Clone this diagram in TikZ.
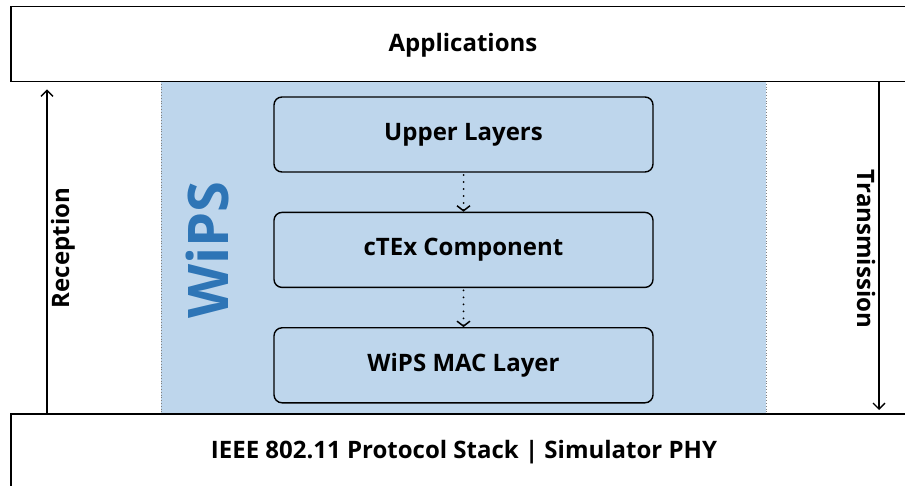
\documentclass[tikz,border=0pt]{standalone}
\usepackage{fontspec}
\setmainfont{Open Sans}
\usetikzlibrary{arrows.meta,positioning}

\definecolor{wipsbg}{RGB}{190,214,236}
\definecolor{wipsblue}{RGB}{46,117,182}

\tikzset{
  layerbox/.style={draw, line width=1.5pt, minimum width=895pt},
  layertext/.style={font=\bfseries\fontsize{24}{28}\selectfont},
  stackbox/.style={draw, line width=1.4pt, rounded corners=8pt, fill=wipsbg,
    minimum width=379pt, minimum height=75pt, font=\bfseries\fontsize{24}{28}\selectfont},
  sidelabel/.style={font=\bfseries\fontsize{24}{28}\selectfont},
  flow/.style={->, line width=2pt, line cap=round, dash pattern=on 0pt off 7pt}
}

\begin{document}
\begin{tikzpicture}[x=1pt, y=-1pt, >={Straight Barb[length=6pt,width=12pt]}]

  % 1. Page frame
  \clip (0,0) rectangle (905,486);

  % 2. WiPS region (behind everything)
  \fill[wipsbg] (161,81) rectangle (766,413);
  \draw[gray, dotted, line width=0.8pt] (161,81) -- (161,413);
  \draw[gray, dotted, line width=0.8pt] (766,81) -- (766,413);
  \node[rotate=90, text=wipsblue, font=\bfseries\fontsize{56}{64}\selectfont] (wips) at (207,250) {WiPS};

  % 3. Outer layers
  \node[layerbox, minimum height=75pt, anchor=north west] (apps) at (10,6) {};
  \node[layertext] (appstext) at (463,45) {Applications};
  \node[layerbox, minimum height=80pt, anchor=north west] (phy) at (10,413) {};
  \node[layertext] (phytext) at (464,452) {IEEE 802.11 Protocol Stack | Simulator PHY};

  % 4. WiPS stack
  \node[stackbox] (upper) at (463.5,134.5) {Upper Layers};
  \node[stackbox, below=39pt of upper] (ctex) {cTEx Component};
  \node[stackbox, below=39pt of ctex] (mac) {WiPS MAC Layer};

  \draw[flow, {Straight Barb[length=5pt,width=13pt,line width=1.5pt]}-{}] (ctex) -- (upper) ;
  \draw[flow, {Straight Barb[length=5pt,width=13pt,line width=1.5pt]}-{}] (mac) -- (ctex);

  % 5. Reception / Transmission
  \coordinate (rx) at (47,0);
  \coordinate (tx) at (879,0);
  \draw[->, line width=1.3pt] (rx |- phy.north) -- ([yshift=-7pt]rx |- apps.south);
  \draw[->, line width=1.3pt] (tx |- apps.south) -- ([yshift=3pt]tx |- phy.north);
  \node[sidelabel, rotate=90] (rxlabel) at (63,248) {Reception};
  \node[sidelabel, rotate=-90] (txlabel) at (866,249) {Transmission};

\end{tikzpicture}
\end{document}
